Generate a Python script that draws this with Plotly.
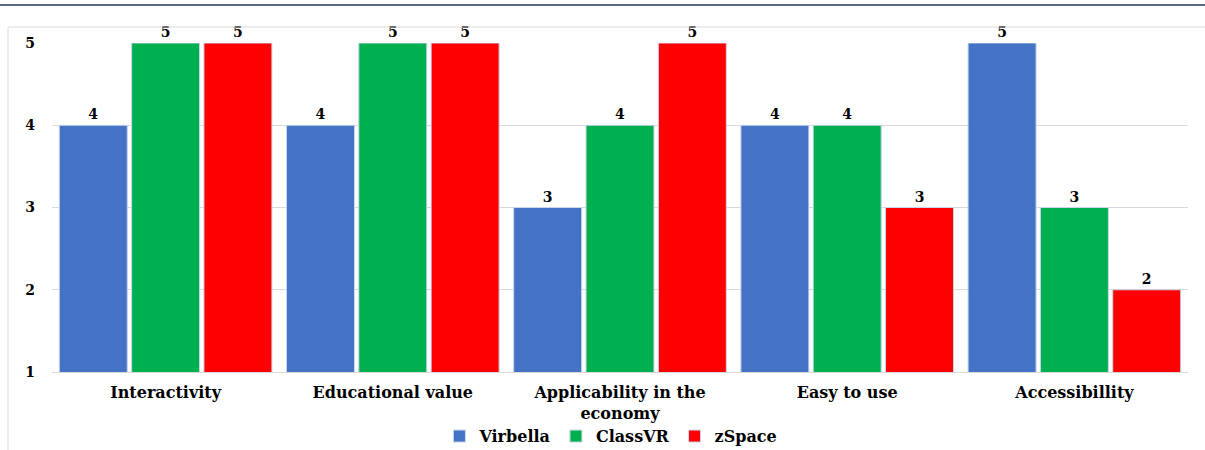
import plotly.graph_objects as go

categories = ["Interactivity", "Educational value", "Applicability in the<br>economy", "Easy to use", "Accessibillity"]
virbella = [4, 4, 3, 4, 5]
classvr = [5, 5, 4, 4, 3]
zspace = [5, 5, 5, 3, 2]
y_ticks = [1, 2, 3, 4, 5]

font_family = "DejaVu Serif"
fig = go.Figure()
for name, vals, color in [("Virbella", virbella, "#4472C4"),
                          ("ClassVR", classvr, "#00B050"),
                          ("zSpace", zspace, "#FF0000")]:
    fig.add_trace(go.Bar(
        name=f"<b>{name}</b>", x=categories, y=vals,
        marker=dict(color=color, line=dict(color="#c9d6ee", width=1)),
        text=[f"<b>{v}</b>" for v in vals], textposition="outside",
        textfont=dict(family=font_family, size=14, color="black"),
        cliponaxis=False,
    ))

fig.update_layout(
    width=1205, height=450,
    margin=dict(l=52, r=17, t=43, b=78, autoexpand=False),
    paper_bgcolor="white", plot_bgcolor="white",
    barmode="group", bargap=0.045, bargroupgap=0.06,
    font=dict(family=font_family, size=14, color="black"),
    showlegend=True,
    legend=dict(orientation="h", x=0.492, xanchor="center", y=-0.195, yanchor="middle",
                bgcolor="rgba(0,0,0,0)",
                font=dict(family=font_family, size=16, color="black"),
                itemwidth=30, tracegroupgap=0),
)
fig.update_yaxes(range=[1, 5], tickvals=y_ticks, ticktext=[f"<b>{t}</b>" for t in y_ticks],
                 showgrid=True, gridcolor="#d9d9d9", gridwidth=1, zeroline=False,
                 showline=False, ticks="", ticklabelstandoff=16, automargin=False,
                 tickfont=dict(family=font_family, size=14, color="black"))
fig.update_xaxes(showline=True, linecolor="#d9d9d9", linewidth=1, ticks="",
                 tickvals=categories, ticktext=[f"<b>{c}</b>" for c in categories],
                 ticklabelstandoff=6, automargin=False,
                 tickfont=dict(family=font_family, size=16, color="black"))

# chart border and top rule
fig.add_shape(type="rect", xref="paper", yref="paper",
              x0=-0.0387, x1=1.02, y0=-0.3, y1=1.0486,
              line=dict(color="#d9d9d9", width=1), fillcolor="rgba(0,0,0,0)")
fig.add_shape(type="line", xref="paper", yref="paper",
              x0=-0.05, x1=1.02, y0=1.1155, y1=1.1155,
              line=dict(color="#5a6a85", width=2))

fig.write_html("out.html")
